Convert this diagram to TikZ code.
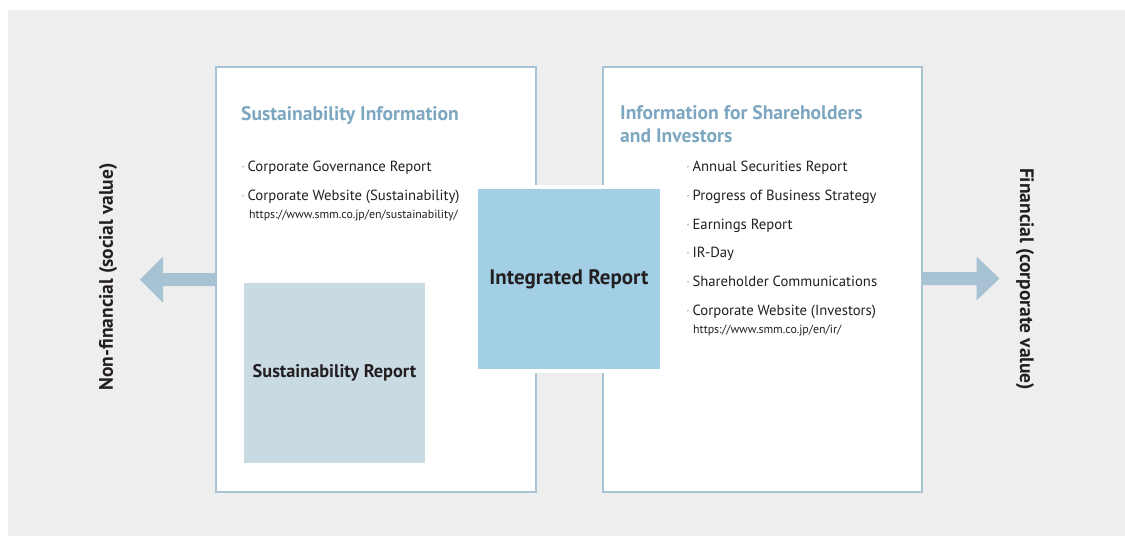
\documentclass[tikz,border=0pt]{standalone}
\usepackage{fontspec}
\setmainfont{PT Sans}
\definecolor{bg}{HTML}{EDEEED}
\definecolor{frame}{HTML}{A8C4D4}
\definecolor{ttl}{HTML}{7DA7C0}
\definecolor{intfill}{HTML}{A2CFE6}
\definecolor{susfill}{HTML}{C9DAE3}
\definecolor{arr}{HTML}{A7C3D3}
\definecolor{txt}{HTML}{231F20}
\definecolor{bul}{HTML}{8DB8D0}
\tikzset{
  panel/.style={draw=frame, line width=1.5pt, fill=white, anchor=north west, inner sep=0pt},
  titletext/.style={text=ttl, font=\bfseries\fontsize{19.6}{22}\selectfont, anchor=base west, inner sep=0pt, align=left},
  item/.style={text=txt, font=\fontsize{14.7}{16}\selectfont, anchor=base west, inner sep=0pt},
  url/.style={text=txt, font=\fontsize{11.9}{13}\selectfont, anchor=base west, inner sep=0pt},
  bigbox/.style={inner sep=0pt, text=txt},
  sidelabel/.style={text=txt, font=\bfseries\fontsize{19.5}{22}\selectfont, inner sep=0pt},
  bigarrow/.style={fill=arr, draw=none}
}
\newcommand{\bu}{{\color{bul}\textperiodcentered}\,}
\begin{document}
\begin{tikzpicture}[x=1pt,y=-1pt]
\useasboundingbox (0,0) rectangle (1125,536);
\fill[bg] (8,10) rectangle (1125,536);
% panels
\node[panel, minimum width=320pt, minimum height=425pt] (lp) at (215,66) {};
\node[panel, minimum width=319pt, minimum height=425pt] (rp) at (602,66) {};
% arrows
\coordinate (lab) at (lp.west |- 0,279.5);
\coordinate (rab) at (rp.east |- 0,278.5);
\fill[bigarrow] (lab) ++(0,-6.5) -- ++(-52,0) -- ++(0,-16.5) -- ++(-23,23) -- ++(23,23) -- ++(0,-16.5) -- ++(52,0) -- cycle;
\fill[bigarrow] (rab) ++(0,-6.5) -- ++(54,0) -- ++(0,-15.5) -- ++(23,22) -- ++(-23,22) -- ++(0,-15.5) -- ++(-54,0) -- cycle;
% side labels
\node[sidelabel, rotate=90] (nf) at (108,277) {Non-financial (social value)};
\node[sidelabel, rotate=-90] (fin) at (1025,279) {Financial (corporate value)};
% left panel content
\node[titletext] (lt) at (241,120) {Sustainability Information};
\node[item] (l1) at (241,171) {\bu Corporate Governance Report};
\node[item] (l2) at (241,200) {\bu Corporate Website (Sustainability)};
\node[url] (l3) at (249,218) {https://www.smm.co.jp/en/sustainability/};
% right panel content
\node[titletext] (rt1) at (620,119) {Information for Shareholders};
\node[titletext] (rt2) at (620,142) {and Investors};
\node[item] (r1) at (686,171) {\bu Annual Securities Report};
\node[item] (r2) at (686,200) {\bu Progress of Business Strategy};
\node[item] (r3) at (686,229) {\bu Earnings Report};
\node[item] (r4) at (686,257) {\bu IR-Day};
\node[item] (r5) at (686,286) {\bu Shareholder Communications};
\node[item] (r6) at (686,315) {\bu Corporate Website (Investors)};
\node[url] (r7) at (693,333) {https://www.smm.co.jp/en/ir/};
% boxes
\node[bigbox, fill=susfill, font=\bfseries\fontsize{18.3}{22}\selectfont, minimum width=181pt, minimum height=180pt] (sr) at (334.5,373) {Sustainability Report};
\node[bigbox, fill=intfill, draw=white, line width=4pt, font=\bfseries\fontsize{21}{24}\selectfont, minimum width=186pt, minimum height=184pt] (ir) at (569,279) {Integrated Report};
\end{tikzpicture}
\end{document}
